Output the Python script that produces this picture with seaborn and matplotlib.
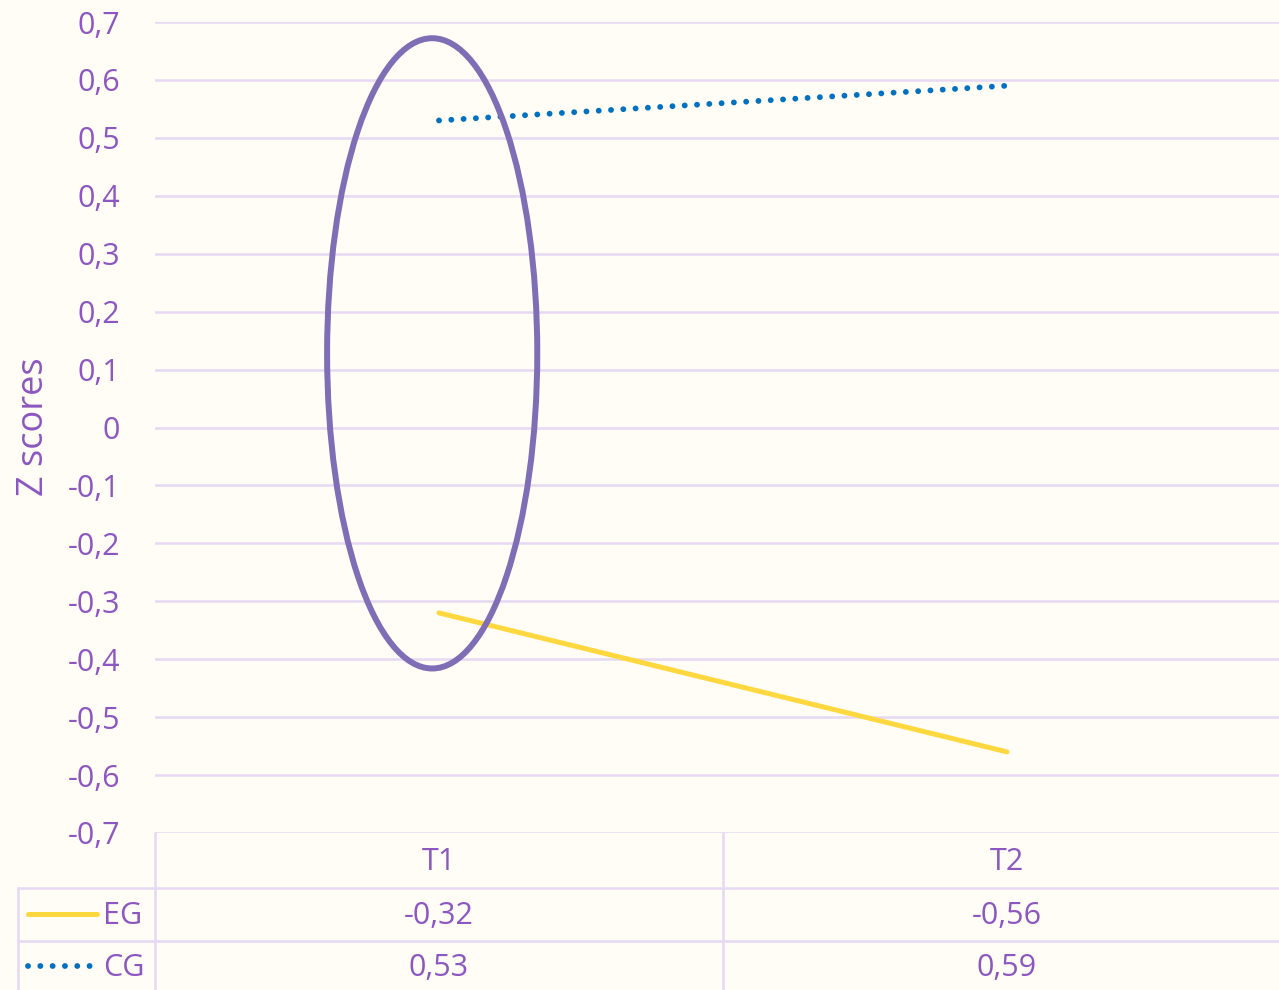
import numpy as np
import pandas as pd
import matplotlib.pyplot as plt
import seaborn as sns
from matplotlib.patches import Ellipse
from matplotlib.lines import Line2D
import matplotlib.transforms as mtransforms

# Data
times = ['T1', 'T2']
eg_values = [-0.32, -0.56]
cg_values = [0.53, 0.59]
y_ticks = [0.7, 0.6, 0.5, 0.4, 0.3, 0.2, 0.1, 0, -0.1, -0.2, -0.3, -0.4, -0.5, -0.6, -0.7]

df = pd.DataFrame({'time': times * 2,
                   'z': eg_values + cg_values,
                   'group': ['EG'] * 2 + ['CG'] * 2})

bg = '#FFFDF6'
txt = '#8C57C0'
grid_c = '#E6D9F1'
yellow = '#FFD83F'
blue = '#0070C0'
dots = (0, (0.01, 2.1))

sns.set_style('white')
plt.rcParams['font.family'] = ['Open Sans', 'DejaVu Sans']

W, H = 1279, 990
fig = plt.figure(figsize=(W / 100, H / 100), dpi=100, facecolor=bg)
# plot area in pixels: left 155, top 22, bottom 833, right ~1291 (cropped)
ax = fig.add_axes([155 / W, 1 - 833 / H, (1291 - 155) / W, (833 - 22) / H])
ax.set_facecolor(bg)

sns.lineplot(data=df[df.group == 'EG'], x='time', y='z', color=yellow,
             linewidth=3.6, ax=ax, solid_capstyle='round')
sns.lineplot(data=df[df.group == 'CG'], x='time', y='z', color=blue,
             linewidth=4.2, ax=ax, linestyle=dots, dash_capstyle='round')

ax.set_xlim(-0.5, 1.5)
ax.set_ylim(-0.7, 0.7)
ax.set_yticks(y_ticks)
ax.set_yticklabels([f'{v:.1f}'.replace('.', ',') if v != 0 else '0' for v in y_ticks],
                   fontsize=22, color=txt)
ax.tick_params(axis='y', length=0, pad=25)
ax.set_xticks([])
ax.set_xlabel('')
ax.set_ylabel('')
for y in y_ticks:
    ax.axhline(y, color=grid_c, linewidth=1.8, zorder=0)
for s in ax.spines.values():
    s.set_visible(False)
if ax.get_legend():
    ax.get_legend().remove()

fig.text(34 / W, 1 - 427 / H, 'Z scores', rotation=90, ha='center', va='center',
         fontsize=26, color=txt)

# highlight ellipse around T1
ax.add_patch(Ellipse((-0.012, 0.128), 0.37, 1.088, fill=False,
                     edgecolor='#7F6DB6', linewidth=4.3, zorder=5))

# data table
def fx(px):
    return px / W

def fy(py):
    return 1 - py / H

lc = grid_c
lw = 1.8
fig.add_artist(Line2D([fx(18), fx(1291)], [fy(888), fy(888)], color=lc, lw=lw))
fig.add_artist(Line2D([fx(18), fx(1291)], [fy(941), fy(941)], color=lc, lw=lw))
fig.add_artist(Line2D([fx(18), fx(18)], [fy(888), fy(990)], color=lc, lw=lw))
fig.add_artist(Line2D([fx(155), fx(155)], [fy(833), fy(990)], color=lc, lw=lw))
fig.add_artist(Line2D([fx(723), fx(723)], [fy(833), fy(990)], color=lc, lw=lw))

trans = mtransforms.blended_transform_factory(ax.transData, fig.transFigure)
rows = [(862, times), (916, eg_values), (968, cg_values)]
for py, vals in rows:
    for i, v in enumerate(vals):
        label = v if isinstance(v, str) else f'{v:.2f}'.replace('.', ',')
        fig.text(i, fy(py), label, transform=trans, ha='center', va='center',
                 fontsize=22, color=txt)

fig.add_artist(Line2D([fx(28), fx(97)], [fy(914), fy(914)], color=yellow, lw=3.6,
                      solid_capstyle='round'))
fig.add_artist(Line2D([fx(28), fx(93)], [fy(966), fy(966)], color=blue, lw=4.2,
                      linestyle=dots, dash_capstyle='round'))
fig.text(fx(103), fy(916), 'EG', ha='left', va='center', fontsize=22, color=txt)
fig.text(fx(103), fy(968), 'CG', ha='left', va='center', fontsize=22, color=txt)

fig.savefig('out.png', dpi=100, facecolor=bg)
